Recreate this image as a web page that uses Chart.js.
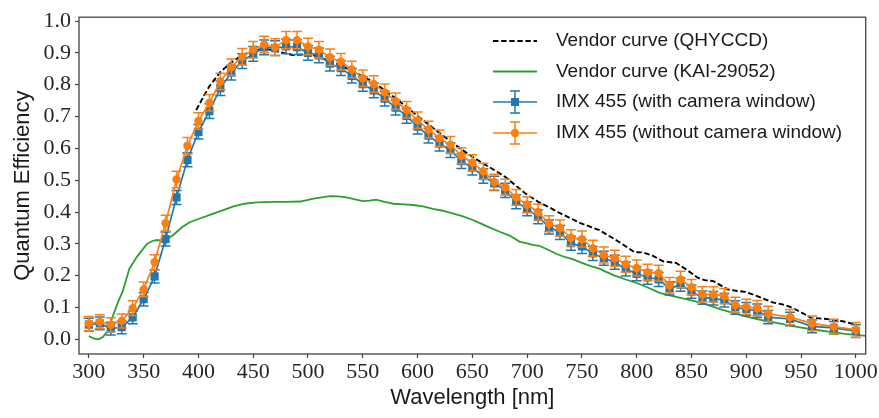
<!DOCTYPE html>
<html>
<head>
<meta charset="utf-8">
<script src="https://cdn.jsdelivr.net/npm/chart.js@4.4.1/dist/chart.umd.min.js"></script>
<style>
  html, body { margin: 0; padding: 0; background: #fff; }
  #wrap { width: 879px; height: 418px; }
</style>
</head>
<body>
<div id="wrap"><canvas id="qe-chart" width="879" height="418"></canvas></div>
<script>
// measured wavelengths (nm)
const wavelengths = [300, 310, 320, 330, 340, 350, 360, 370, 380, 390,
  400, 410, 420, 430, 440, 450, 460, 470, 480, 490,
  500, 510, 520, 530, 540, 550, 560, 570, 580, 590,
  600, 610, 620, 630, 640, 650, 660, 670, 680, 690,
  700, 710, 720, 730, 740, 750, 760, 770, 780, 790,
  800, 810, 820, 830, 840, 850, 860, 870, 880, 890,
  900, 910, 920, 940, 960, 980, 1000];

// IMX 455 with camera window
const qeWithWindow = [0.046, 0.050, 0.034, 0.038, 0.069, 0.126, 0.198, 0.315, 0.446, 0.564,
  0.652, 0.717, 0.789, 0.838, 0.874, 0.897, 0.917, 0.915, 0.920, 0.918,
  0.900, 0.892, 0.866, 0.852, 0.828, 0.802, 0.782, 0.756, 0.728, 0.702,
  0.668, 0.640, 0.615, 0.594, 0.560, 0.539, 0.513, 0.490, 0.468, 0.432,
  0.410, 0.385, 0.353, 0.336, 0.302, 0.292, 0.270, 0.255, 0.242, 0.221,
  0.206, 0.195, 0.188, 0.160, 0.172, 0.150, 0.131, 0.129, 0.123, 0.100,
  0.095, 0.090, 0.070, 0.064, 0.041, 0.036, 0.026];
const errWithWindow = [0.020, 0.020, 0.020, 0.020, 0.020, 0.021, 0.021, 0.022, 0.022, 0.022,
  0.023, 0.023, 0.023, 0.023, 0.023, 0.023, 0.023, 0.023, 0.023, 0.023,
  0.023, 0.023, 0.023, 0.023, 0.023, 0.023, 0.023, 0.023, 0.023, 0.023,
  0.023, 0.023, 0.023, 0.023, 0.023, 0.023, 0.023, 0.022, 0.022, 0.022,
  0.022, 0.022, 0.022, 0.022, 0.022, 0.022, 0.022, 0.022, 0.022, 0.022,
  0.022, 0.022, 0.022, 0.021, 0.021, 0.021, 0.021, 0.021, 0.021, 0.021,
  0.021, 0.021, 0.021, 0.021, 0.020, 0.020, 0.020];

// IMX 455 without camera window
const qeWithoutWindow = [0.050, 0.055, 0.046, 0.058, 0.098, 0.157, 0.242, 0.365, 0.502, 0.608,
  0.686, 0.743, 0.810, 0.855, 0.888, 0.910, 0.926, 0.918, 0.940, 0.940,
  0.920, 0.910, 0.886, 0.872, 0.848, 0.820, 0.802, 0.776, 0.748, 0.721,
  0.688, 0.659, 0.632, 0.611, 0.577, 0.555, 0.528, 0.494, 0.478, 0.446,
  0.423, 0.400, 0.363, 0.350, 0.319, 0.315, 0.286, 0.265, 0.255, 0.236,
  0.224, 0.211, 0.208, 0.170, 0.188, 0.164, 0.141, 0.141, 0.136, 0.108,
  0.102, 0.098, 0.080, 0.070, 0.050, 0.040, 0.030];
const errWithoutWindow = [0.022, 0.022, 0.022, 0.022, 0.023, 0.023, 0.024, 0.025, 0.026, 0.026,
  0.026, 0.026, 0.026, 0.026, 0.026, 0.026, 0.026, 0.026, 0.027, 0.027,
  0.026, 0.026, 0.026, 0.026, 0.026, 0.026, 0.026, 0.026, 0.026, 0.026,
  0.026, 0.026, 0.026, 0.026, 0.025, 0.025, 0.025, 0.025, 0.025, 0.025,
  0.025, 0.025, 0.025, 0.025, 0.025, 0.025, 0.025, 0.025, 0.025, 0.025,
  0.025, 0.025, 0.025, 0.024, 0.026, 0.024, 0.024, 0.024, 0.024, 0.024,
  0.024, 0.024, 0.024, 0.024, 0.023, 0.023, 0.023];

// vendor curve (QHYCCD)
const qhyWavelengths = [398, 405, 410, 420, 430, 440, 450, 458, 465, 475,
  486, 497, 505, 520, 535, 550, 560, 570, 580, 590,
  600, 610, 620, 632, 645, 660, 670, 681, 690, 699,
  711, 720, 728, 748, 766, 784, 798, 806, 815, 824,
  836, 845, 856, 862, 870, 883, 892, 899, 910, 924,
  933, 940, 950, 959, 973, 988, 1000];
const qhyQE = [0.720, 0.765, 0.795, 0.840, 0.870, 0.893, 0.907, 0.912, 0.910, 0.902,
  0.893, 0.895, 0.892, 0.875, 0.852, 0.826, 0.808, 0.782, 0.757, 0.730,
  0.702, 0.675, 0.648, 0.617, 0.585, 0.552, 0.532, 0.508, 0.482, 0.457,
  0.430, 0.415, 0.400, 0.366, 0.343, 0.306, 0.274, 0.273, 0.262, 0.245,
  0.240, 0.220, 0.193, 0.186, 0.183, 0.157, 0.152, 0.149, 0.136, 0.116,
  0.110, 0.102, 0.085, 0.068, 0.064, 0.057, 0.046];

// vendor curve (KAI-29052)
const kaiWavelengths = [300, 305, 309, 313, 318, 322, 327, 331, 337, 344,
  349, 353, 358, 362, 368, 372, 377, 385, 392, 400,
  413, 422, 432, 442, 453, 470, 480, 493, 505, 520,
  528, 535, 543, 550, 556, 562, 570, 578, 588, 596,
  605, 614, 623, 632, 640, 648, 657, 666, 675, 684,
  693, 699, 705, 711, 718, 727, 735, 742, 750, 758,
  766, 772, 780, 790, 800, 810, 821, 830, 839, 848,
  860, 876, 891, 903, 915, 930, 945, 961, 975, 990,
  1010];
const kaiQE = [0.010, 0.002, 0.000, 0.008, 0.030, 0.075, 0.120, 0.152, 0.222, 0.260,
  0.282, 0.300, 0.309, 0.312, 0.309, 0.316, 0.328, 0.352, 0.368, 0.378,
  0.394, 0.405, 0.418, 0.426, 0.430, 0.432, 0.432, 0.433, 0.442, 0.450,
  0.449, 0.446, 0.440, 0.434, 0.436, 0.439, 0.432, 0.426, 0.424, 0.422,
  0.418, 0.410, 0.404, 0.396, 0.388, 0.378, 0.365, 0.351, 0.338, 0.326,
  0.307, 0.302, 0.297, 0.294, 0.283, 0.268, 0.258, 0.251, 0.240, 0.230,
  0.222, 0.212, 0.200, 0.188, 0.177, 0.163, 0.146, 0.138, 0.131, 0.124,
  0.114, 0.095, 0.080, 0.069, 0.060, 0.050, 0.040, 0.031, 0.024, 0.017,
  0.011];

const xTicks = [300, 350, 400, 450, 500, 550, 600, 650, 700, 750, 800, 850, 900, 950, 1000];
const yTicks = [0.0, 0.1, 0.2, 0.3, 0.4, 0.5, 0.6, 0.7, 0.8, 0.9, 1.0];

const BLUE = '#1f77b4';
const ORANGE = '#ff7f0e';
const GREEN = '#2ca02c';
const SANS = '"Liberation Sans", Arial, sans-serif';
const SERIF = '"Liberation Serif", "Times New Roman", serif';

function toPoints(xs, ys) {
  return xs.map((x, i) => ({ x: x, y: ys[i] }));
}

// vertical error bars drawn just before each dataset
const errorBarPlugin = {
  id: 'errorBars',
  beforeDatasetDraw(chart, args) {
    const ds = chart.data.datasets[args.index];
    if (!ds.errors) return;
    const yScale = chart.scales.y;
    const ctx = chart.ctx;
    ctx.save();
    ctx.strokeStyle = ds.borderColor;
    ctx.lineWidth = 1.5;
    args.meta.data.forEach((pt, i) => {
      const v = ds.data[i].y;
      const e = ds.errors[i];
      const top = yScale.getPixelForValue(v + e);
      const bot = yScale.getPixelForValue(v - e);
      ctx.beginPath();
      ctx.moveTo(pt.x, top);
      ctx.lineTo(pt.x, bot);
      ctx.moveTo(pt.x - 5, top);
      ctx.lineTo(pt.x + 5, top);
      ctx.moveTo(pt.x - 5, bot);
      ctx.lineTo(pt.x + 5, bot);
      ctx.stroke();
    });
    ctx.restore();
  }
};

// frame + legend inside the plot
const framePlugin = {
  id: 'frameAndLegend',
  afterDraw(chart) {
    const ctx = chart.ctx;
    const a = chart.chartArea;
    ctx.save();
    ctx.strokeStyle = '#444';
    ctx.lineWidth = 1.3;
    ctx.strokeRect(a.left, a.top, a.right - a.left, a.bottom - a.top);

    const x0 = 493, x1 = 537, textX = 556;
    const rowY = [41, 71.5, 102, 133];
    chart.data.datasets.forEach((ds, i) => {
      const y = rowY[i];
      const xm = (x0 + x1) / 2;
      ctx.strokeStyle = ds.borderColor;
      ctx.fillStyle = ds.borderColor;
      ctx.lineWidth = ds.borderWidth;
      ctx.setLineDash(ds.borderDash || []);
      ctx.beginPath();
      ctx.moveTo(x0, y);
      ctx.lineTo(x1, y);
      ctx.stroke();
      ctx.setLineDash([]);
      if (ds.errors) {
        ctx.lineWidth = 1.5;
        ctx.beginPath();
        ctx.moveTo(xm, y - 11);
        ctx.lineTo(xm, y + 11);
        ctx.moveTo(xm - 5, y - 11);
        ctx.lineTo(xm + 5, y - 11);
        ctx.moveTo(xm - 5, y + 11);
        ctx.lineTo(xm + 5, y + 11);
        ctx.stroke();
      }
      if (ds.pointRadius > 0) {
        ctx.beginPath();
        if (ds.pointStyle === 'rect') {
          ctx.rect(xm - 4, y - 4, 8, 8);
        } else {
          ctx.arc(xm, y, 4.2, 0, Math.PI * 2);
        }
        ctx.fill();
      }
      ctx.fillStyle = '#1a1a1a';
      ctx.font = '19px ' + SANS;
      ctx.textBaseline = 'middle';
      ctx.textAlign = 'left';
      ctx.fillText(ds.label, textX, y);
    });
    ctx.restore();
  }
};

const ctx = document.getElementById('qe-chart').getContext('2d');
new Chart(ctx, {
  type: 'line',
  data: {
    datasets: [
      {
        label: 'Vendor curve (QHYCCD)',
        data: toPoints(qhyWavelengths, qhyQE),
        borderColor: '#000',
        backgroundColor: '#000',
        borderWidth: 1.9,
        borderDash: [5.5, 2.6],
        pointRadius: 0,
        tension: 0,
        order: 3
      },
      {
        label: 'Vendor curve (KAI-29052)',
        data: toPoints(kaiWavelengths, kaiQE),
        borderColor: GREEN,
        backgroundColor: GREEN,
        borderWidth: 1.8,
        pointRadius: 0,
        tension: 0,
        order: 2
      },
      {
        label: 'IMX 455 (with camera window)',
        data: toPoints(wavelengths, qeWithWindow),
        errors: errWithWindow,
        borderColor: BLUE,
        backgroundColor: BLUE,
        borderWidth: 1.7,
        pointStyle: 'rect',
        pointRadius: 5.8,
        pointBorderWidth: 0,
        tension: 0,
        order: 1
      },
      {
        label: 'IMX 455 (without camera window)',
        data: toPoints(wavelengths, qeWithoutWindow),
        errors: errWithoutWindow,
        borderColor: ORANGE,
        backgroundColor: ORANGE,
        borderWidth: 1.7,
        pointStyle: 'circle',
        pointRadius: 4.2,
        pointBorderWidth: 0,
        tension: 0,
        order: 0
      }
    ]
  },
  options: {
    responsive: false,
    animation: false,
    devicePixelRatio: 1,
    layout: { padding: { top: 12, right: 13, left: 0, bottom: 0 } },
    plugins: {
      legend: { display: false },
      tooltip: { enabled: false }
    },
    scales: {
      x: {
        type: 'linear',
        min: 291,
        max: 1009,
        afterBuildTicks: function(scale) {
          scale.ticks = xTicks.map(v => ({ value: v }));
        },
        afterFit: function(scale) {
          scale.height = 64;
        },
        border: { display: false },
        grid: {
          drawOnChartArea: false,
          drawTicks: true,
          tickLength: 4,
          tickColor: '#444',
          tickWidth: 1.2
        },
        ticks: {
          autoSkip: false,
          maxRotation: 0,
          padding: 1,
          color: '#262626',
          font: { family: SERIF, size: 22 },
          callback: function(value) {
            return String(value);
          }
        },
        title: {
          display: true,
          text: 'Wavelength [nm]',
          color: '#1a1a1a',
          font: { family: SANS, size: 22, lineHeight: 1.2 },
          padding: { top: 0, bottom: 7 }
        }
      },
      y: {
        type: 'linear',
        min: -0.046,
        max: 1.012,
        afterBuildTicks: function(scale) {
          scale.ticks = yTicks.map(v => ({ value: v }));
        },
        afterFit: function(scale) {
          scale.width = 79;
        },
        border: { display: false },
        grid: {
          drawOnChartArea: false,
          drawTicks: true,
          tickLength: 4,
          tickColor: '#444',
          tickWidth: 1.2
        },
        ticks: {
          padding: 4,
          color: '#262626',
          font: { family: SERIF, size: 22 },
          callback: function(value) {
            return value.toFixed(1);
          }
        },
        title: {
          display: true,
          text: 'Quantum Efficiency',
          color: '#1a1a1a',
          font: { family: SANS, size: 22, lineHeight: 1.2 },
          padding: { top: 10, bottom: 0 }
        }
      }
    }
  },
  plugins: [errorBarPlugin, framePlugin]
});
</script>
</body>
</html>
